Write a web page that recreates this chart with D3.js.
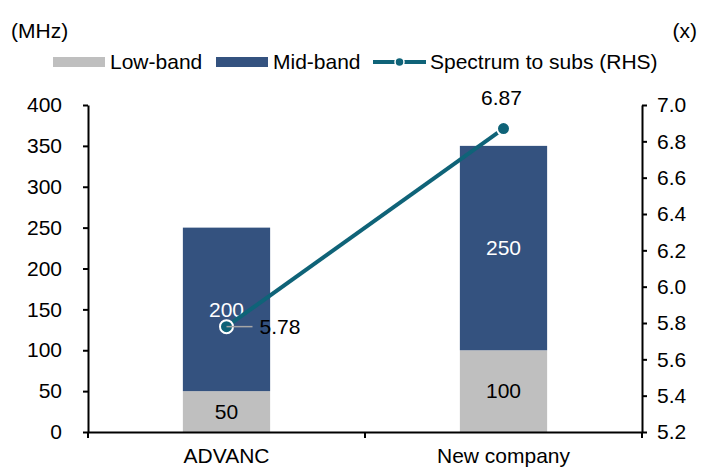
<!DOCTYPE html>
<html><head><meta charset="utf-8">
<script src="https://cdn.jsdelivr.net/npm/d3@7/dist/d3.min.js"></script>
<style>body{margin:0;background:#fff}svg{font-family:"Liberation Sans",Arial,sans-serif}</style>
</head><body>
<svg id="c" width="705" height="472"></svg>
<script>
const categories = ["ADVANC", "New company"];
const lowBand = [50, 100];
const midBand = [200, 250];
const spectrumToSubs = [5.78, 6.87];
const leftTicks = [0, 50, 100, 150, 200, 250, 300, 350, 400];
const rightTicks = [5.2, 5.4, 5.6, 5.8, 6.0, 6.2, 6.4, 6.6, 6.8, 7.0];

const colLow = "#bfbfbf", colMid = "#34527f", colLine = "#0f6378";
const svg = d3.select("#c");
const L = 88, R = 642, T = 105, B = 432;
const fs = 21;

const x = d3.scaleBand().domain(categories).range([L, R]).paddingInner(0).paddingOuter(0);
const y = d3.scaleLinear().domain([0, 400]).range([B, T]);
const y2 = d3.scaleLinear().domain([5.2, 7.0]).range([B, T]);
const bw = x.bandwidth() * 0.315;

// bars
const g = svg.append("g");
categories.forEach((c, i) => {
  const cx = x(c) + x.bandwidth() / 2;
  g.append("rect").attr("x", cx - bw / 2).attr("width", bw)
    .attr("y", y(lowBand[i])).attr("height", y(0) - y(lowBand[i])).attr("fill", colLow);
  g.append("rect").attr("x", cx - bw / 2).attr("width", bw)
    .attr("y", y(lowBand[i] + midBand[i])).attr("height", y(lowBand[i]) - y(lowBand[i] + midBand[i])).attr("fill", colMid);
  g.append("text").attr("x", cx).attr("y", y(lowBand[i] / 2)).attr("dy", "0.35em")
    .attr("text-anchor", "middle").attr("font-size", fs).attr("fill", "#000").text(lowBand[i]);
  g.append("text").attr("x", cx).attr("y", y(lowBand[i] + midBand[i] / 2)).attr("dy", "0.35em")
    .attr("text-anchor", "middle").attr("font-size", fs).attr("fill", "#fff").text(midBand[i]);
});

// axes
const axL = svg.append("g").attr("transform", `translate(${L},0)`)
  .call(d3.axisLeft(y).tickValues(leftTicks).tickSize(5).tickSizeOuter(0).tickPadding(21));
const axR = svg.append("g").attr("transform", `translate(${R},0)`)
  .call(d3.axisRight(y2).tickValues(rightTicks).tickSize(5).tickSizeOuter(0).tickPadding(10).tickFormat(d3.format(".1f")));
const axB = svg.append("g").attr("transform", `translate(0,${B})`)
  .call(d3.axisBottom(x).tickSize(0).tickSizeOuter(0).tickPadding(16));
[axL, axR, axB].forEach(a => {
  a.selectAll("path.domain").attr("stroke", "#000").attr("stroke-width", 2);
  a.selectAll(".tick line").attr("stroke", "#000").attr("stroke-width", 2);
  a.selectAll("text").attr("font-size", fs).attr("fill", "#000").attr("font-family", "Liberation Sans, Arial, sans-serif");
});
// bottom category separator ticks
[L, x(categories[1]), R].forEach(px => {
  axB.append("line").attr("x1", px).attr("x2", px).attr("y1", 0).attr("y2", 6).attr("stroke", "#000").attr("stroke-width", 2);
});
axB.selectAll(".tick text").attr("dy", "0.71em");

// line series
const pts = categories.map((c, i) => [x(c) + x.bandwidth() / 2, y2(spectrumToSubs[i])]);
svg.append("path").attr("d", d3.line()(pts)).attr("fill", "none").attr("stroke", colLine).attr("stroke-width", 4);
pts.forEach(p => {
  svg.append("circle").attr("cx", p[0]).attr("cy", p[1]).attr("r", 6.5).attr("fill", colLine)
    .attr("stroke", "#fff").attr("stroke-width", 2);
});
svg.append("line").attr("x1", pts[0][0]).attr("y1", pts[0][1]).attr("x2", pts[0][0] + 26).attr("y2", pts[0][1])
  .attr("stroke", "#a6a6a6").attr("stroke-width", 1.5);
svg.append("text").attr("x", pts[0][0] + 33).attr("y", pts[0][1]).attr("dy", "0.35em")
  .attr("font-size", fs).text(d3.format(".2f")(spectrumToSubs[0]));
svg.append("text").attr("x", pts[1][0] - 2).attr("y", pts[1][1] - 31).attr("dy", "0.35em")
  .attr("text-anchor", "middle").attr("font-size", fs).text(d3.format(".2f")(spectrumToSubs[1]));

// axis unit labels
svg.append("text").attr("x", 11).attr("y", 38).attr("font-size", fs).text("(MHz)");
svg.append("text").attr("x", 697).attr("y", 38).attr("text-anchor", "end").attr("font-size", fs).text("(x)");

// legend
const ly = 62;
const leg = svg.append("g");
leg.append("rect").attr("x", 53).attr("y", ly - 5).attr("width", 52).attr("height", 10).attr("fill", colLow);
leg.append("text").attr("x", 110).attr("y", ly).attr("dy", "0.35em").attr("font-size", fs).text("Low-band");
leg.append("rect").attr("x", 216).attr("y", ly - 5).attr("width", 52).attr("height", 10).attr("fill", colMid);
leg.append("text").attr("x", 273).attr("y", ly).attr("dy", "0.35em").attr("font-size", fs).text("Mid-band");
leg.append("line").attr("x1", 373).attr("x2", 426).attr("y1", ly).attr("y2", ly).attr("stroke", colLine).attr("stroke-width", 4);
leg.append("circle").attr("cx", 399.5).attr("cy", ly).attr("r", 4.5).attr("fill", colLine).attr("stroke", "#fff").attr("stroke-width", 1.5);
leg.append("text").attr("x", 430).attr("y", ly).attr("dy", "0.35em").attr("font-size", fs).text("Spectrum to subs (RHS)");
</script>
</body></html>
